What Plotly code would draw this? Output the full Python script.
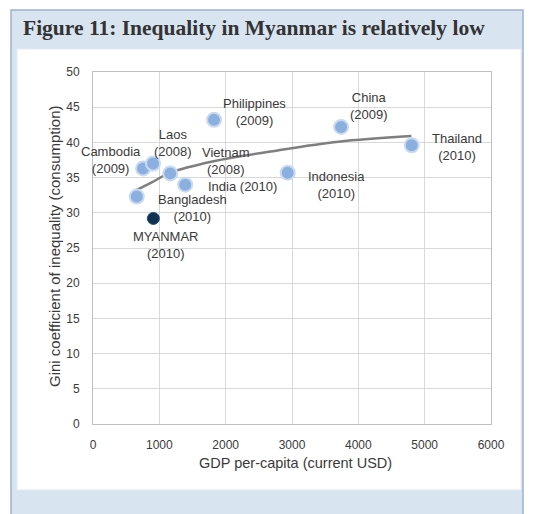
import plotly.graph_objects as go

# ---- data ----
countries = ["Myanmar", "Bangladesh", "Cambodia", "Laos", "Vietnam", "India",
             "Philippines", "Indonesia", "China", "Thailand"]
gdp_per_capita = [910, 660, 755, 905, 1165, 1390, 1825, 2935, 3740, 4805]
gini = [29.2, 32.3, 36.3, 37.0, 35.6, 34.0, 43.2, 35.7, 42.2, 39.6]
label_texts = ["MYANMAR<br>(2010)", "Bangladesh<br>(2010)", "Cambodia<br>(2009)",
               "Laos<br>(2008)", "Vietnam<br>(2008)", "India (2010)",
               "Philippines<br>(2009)", "Indonesia<br>(2010)", "China<br>(2009)",
               "Thailand<br>(2010)"]

trend_x = [583, 900, 1165, 1800, 2800, 3700, 4800]
trend_y = [32.9, 34.4, 35.7, 37.3, 38.9, 40.1, 40.9]

x_ticks = [0, 1000, 2000, 3000, 4000, 5000, 6000]
y_ticks = [0, 5, 10, 15, 20, 25, 30, 35, 40, 45, 50]

# ---- layout geometry (pixels) ----
W, H = 533, 514
PL, PR, PT, PB = 93, 491, 72, 424


def px(xp):
    return (xp - PL) / (PR - PL)


def py(yp):
    return (PB - yp) / (PB - PT)


# label offsets in pixels (dx right, dy down)
label_offsets = {
    "Myanmar": (12, 27), "Bangladesh": (56, 11), "Cambodia": (-32, -8),
    "Laos": (20, -21), "Vietnam": (55, -12), "India": (57, 2),
    "Philippines": (40, -8), "Indonesia": (49, 12), "China": (28, -21),
    "Thailand": (45, 2),
}

TXT = "#3a3a3a"
FONT = "Liberation Sans, Arial, sans-serif"

fig = go.Figure()

fig.add_trace(go.Scatter(
    x=trend_x, y=trend_y, mode="lines", line=dict(color="#7f7f7f", width=2.5, shape="spline"),
    hoverinfo="skip", showlegend=False))

others = [i for i, c in enumerate(countries) if c != "Myanmar"]
fig.add_trace(go.Scatter(
    x=[gdp_per_capita[i] for i in others], y=[gini[i] for i in others],
    mode="markers",
    marker=dict(size=14, color="#8bb0e0", line=dict(color="#c8daf0", width=2)),
    showlegend=False))

mi = countries.index("Myanmar")
fig.add_trace(go.Scatter(
    x=[gdp_per_capita[mi]], y=[gini[mi]], mode="markers",
    marker=dict(size=12, color="#10314f", line=dict(color="#1f4e79", width=1)),
    showlegend=False))

annotations = []
for c, xv, yv, t in zip(countries, gdp_per_capita, gini, label_texts):
    dx, dy = label_offsets[c]
    annotations.append(dict(x=xv, y=yv, xref="x", yref="y", text=t, showarrow=False,
                            xshift=dx, yshift=-dy, xanchor="center", yanchor="middle",
                            font=dict(family=FONT, size=13, color=TXT)))

annotations.append(dict(x=px(21), y=py(28), xref="paper", yref="paper",
                        text="<b>Figure 11: Inequality in Myanmar is relatively low</b>",
                        showarrow=False, xanchor="left", yanchor="middle",
                        font=dict(family="Liberation Serif, Times New Roman, serif", size=21.5,
                                  color="#333333")))
annotations.append(dict(x=px(295), y=py(463), xref="paper", yref="paper",
                        text="GDP per-capita (current USD)", showarrow=False,
                        xanchor="center", yanchor="middle",
                        font=dict(family=FONT, size=14.5, color=TXT)))
annotations.append(dict(x=px(55), y=py(246), xref="paper", yref="paper",
                        text="Gini coefficient of inequality (consumption)", showarrow=False,
                        textangle=-90, xanchor="center", yanchor="middle",
                        font=dict(family=FONT, size=15, color=TXT)))

shapes = [
    dict(type="rect", xref="paper", yref="paper", x0=px(11), x1=px(523), y0=py(516), y1=py(10),
         fillcolor="#d9e4f1", line=dict(color="#9db3cd", width=1.5), layer="below"),
    dict(type="rect", xref="paper", yref="paper", x0=px(17), x1=px(521), y0=py(490), y1=py(49),
         fillcolor="#ffffff", line=dict(color="#e3ebf5", width=1), layer="below"),
]

fig.update_layout(
    width=W, height=H,
    margin=dict(l=PL, r=W - PR, t=PT, b=H - PB),
    paper_bgcolor="#ffffff", plot_bgcolor="#ffffff",
    annotations=annotations, shapes=shapes,
    xaxis=dict(range=[0, 6000], tickvals=x_ticks, ticktext=[str(v) for v in x_ticks],
               showgrid=True, gridcolor="#d9d9d9", gridwidth=1,
               showline=True, linecolor="#bfbfbf", mirror=True, zeroline=False,
               ticks="", ticklabelstandoff=10,
               tickfont=dict(family=FONT, size=12, color=TXT), fixedrange=True),
    yaxis=dict(range=[0, 50], tickvals=y_ticks, ticktext=[str(v) for v in y_ticks],
               showgrid=True, gridcolor="#d9d9d9", gridwidth=1,
               showline=True, linecolor="#bfbfbf", mirror=True, zeroline=False,
               ticks="", ticklabelstandoff=10,
               tickfont=dict(family=FONT, size=12, color=TXT), fixedrange=True),
    showlegend=False,
)

fig.write_html("out.html", config={"displayModeBar": False},
               post_script="document.body.style.margin='0';document.body.style.overflow='hidden';")
